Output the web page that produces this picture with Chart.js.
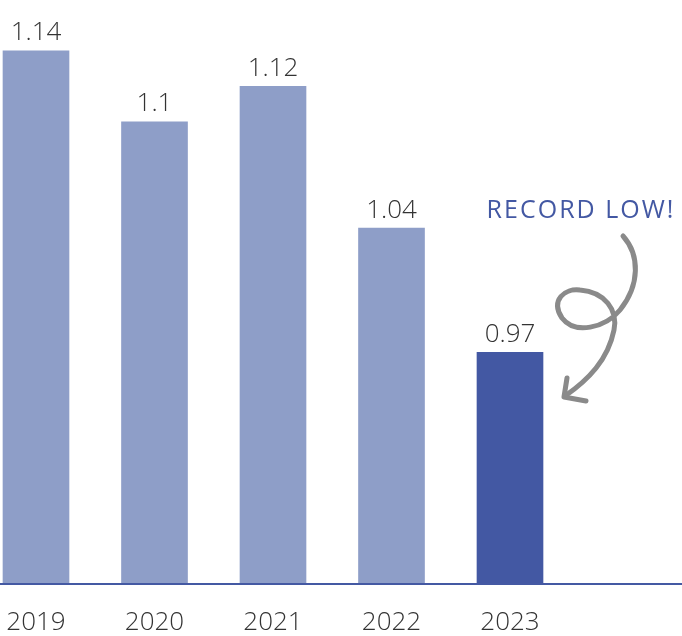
<!DOCTYPE html>
<html>
<head>
<meta charset="utf-8">
<script src="https://cdn.jsdelivr.net/npm/chart.js@4"></script>
<style>
  html, body { margin: 0; padding: 0; background: #fff; }
  #wrap { width: 682px; height: 636px; }
</style>
</head>
<body>
<div id="wrap"><canvas id="myChart1"></canvas></div>
<script>
const years = ['2019', '2020', '2021', '2022', '2023'];
const rates = [1.14, 1.1, 1.12, 1.04, 0.97];
const barColors = ['#8e9ec8', '#8e9ec8', '#8e9ec8', '#8e9ec8', '#4358a3'];
const callout = 'RECORD LOW!';
const yMin = 0.84;
const yMax = 1.163;

const font = "'Open Sans', sans-serif";

// value labels above each bar
const valueLabels = {
  id: 'valueLabels',
  afterDatasetsDraw(chart) {
    const ctx = chart.ctx;
    const meta = chart.getDatasetMeta(0);
    ctx.save();
    ctx.fillStyle = '#333';
    ctx.font = '300 26px ' + font;
    ctx.textAlign = 'center';
    ctx.textBaseline = 'bottom';
    meta.data.forEach(function(bar, i) {
      ctx.fillText(String(rates[i]), bar.x, bar.y - 5);
    });
    ctx.restore();
  }
};

// baseline + callout with the curly arrow
const extras = {
  id: 'extras',
  afterDraw(chart) {
    const ctx = chart.ctx;
    const y = chart.chartArea.bottom;
    ctx.save();
    ctx.strokeStyle = '#4459a3';
    ctx.lineWidth = 2;
    ctx.beginPath();
    ctx.moveTo(0, y + 1);
    ctx.lineTo(chart.width, y + 1);
    ctx.stroke();

    ctx.fillStyle = '#4358a3';
    ctx.font = '400 25px ' + font;
    ctx.letterSpacing = '2px';
    ctx.textAlign = 'center';
    ctx.textBaseline = 'alphabetic';
    ctx.fillText(callout, 581, 218);
    ctx.letterSpacing = '0px';

    ctx.strokeStyle = '#8a8a8a';
    ctx.lineWidth = 5;
    ctx.lineCap = 'round';
    ctx.lineJoin = 'round';
    ctx.beginPath();
    ctx.moveTo(623, 236);
    ctx.bezierCurveTo(640, 255, 640, 285, 620, 310);
    ctx.bezierCurveTo(605, 328, 575, 335, 562, 318);
    ctx.bezierCurveTo(550, 300, 565, 288, 580, 290);
    ctx.bezierCurveTo(605, 292, 618, 310, 614, 330);
    ctx.bezierCurveTo(608, 360, 588, 380, 565, 396);
    ctx.stroke();
    ctx.beginPath();
    ctx.moveTo(567, 378);
    ctx.lineTo(564, 397);
    ctx.lineTo(586, 401);
    ctx.stroke();
    ctx.restore();
  }
};

const data1 = {
  labels: years,
  datasets: [{
    data: rates,
    base: yMin,
    backgroundColor: barColors,
    borderWidth: 0,
    barThickness: 66,
    clip: false
  }]
};

const config1 = {
  type: 'bar',
  data: data1,
  options: {
    responsive: true,
    maintainAspectRatio: false,
    animation: false,
    layout: {
      padding: { left: 36, right: 172, top: 10, bottom: 0 }
    },
    plugins: {
      legend: { display: false },
      tooltip: { enabled: false }
    },
    scales: {
      x: {
        offset: false,
        grid: { display: false, tickLength: 26 },
        border: { display: false },
        ticks: {
          color: '#333',
          font: { family: font, size: 26, weight: '300', lineHeight: 1.04 },
          padding: 0,
          maxRotation: 0
        }
      },
      y: {
        display: false,
        min: yMin,
        max: yMax
      }
    }
  },
  plugins: [valueLabels, extras]
};

const myChart1 = new Chart(
  document.getElementById('myChart1'),
  config1
);
</script>
</body>
</html>
